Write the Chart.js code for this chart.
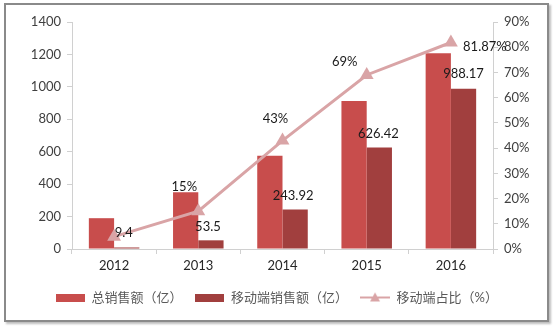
<!DOCTYPE html>
<html>
<head>
<meta charset="utf-8">
<script src="https://cdn.jsdelivr.net/npm/chart.js@4/dist/chart.umd.min.js"></script>
<style>
  html, body { margin: 0; padding: 0; background: #ffffff; }
  #frame {
    position: absolute; left: 4px; top: 3px; width: 541px; height: 315px;
    border: 2px solid #8a8a8a; box-shadow: 2px 2px 2px #bdbdbd; background: #fff;
  }
  #wrap { position: absolute; left: 0; top: 0; width: 553px; height: 327px; }
</style>
</head>
<body>
<div id="frame"></div>
<div id="wrap"><canvas id="c" width="553" height="327"></canvas></div>
<script>
// 年度数据
const years = ['2012', '2013', '2014', '2015', '2016'];
const totalSales = [190, 350, 575, 913, 1207];          // 总销售额（亿）
const mobileSales = [9.4, 53.5, 243.92, 626.42, 988.17]; // 移动端销售额（亿）
const mobileShare = [4.9, 15, 43, 69, 81.87];            // 移动端占比（%）
const shareLabels = ['', '15%', '43%', '69%', '81.87%'];
const mobileLabels = ['9.4', '53.5', '243.92', '626.42', '988.17'];

const FONT = "Lato, 'Noto Sans CJK SC', sans-serif";
const C_TOTAL = '#c84d4c';
const C_MOBILE = '#a13f3e';
const C_LINE = '#d9a4a6';

function boxIcon(color) {
  const cv = document.createElement('canvas');
  cv.width = 29; cv.height = 8;
  const g = cv.getContext('2d');
  g.fillStyle = color; g.fillRect(0, 0, 29, 8);
  return cv;
}
function lineIcon(color) {
  const cv = document.createElement('canvas');
  cv.width = 30; cv.height = 12;
  const g = cv.getContext('2d');
  g.strokeStyle = color; g.lineWidth = 2;
  g.beginPath(); g.moveTo(0, 6); g.lineTo(30, 6); g.stroke();
  g.fillStyle = color;
  g.beginPath(); g.moveTo(15, 1); g.lineTo(20, 10); g.lineTo(10, 10); g.closePath(); g.fill();
  return cv;
}

// 数据标签：按元素位置绘制，带各自的偏移
const labelPlugin = {
  id: 'valueLabels',
  afterDatasetsDraw(chart) {
    const ctx = chart.ctx;
    ctx.save();
    ctx.font = '13px ' + FONT;
    ctx.fillStyle = '#1a1a1a';
    ctx.textAlign = 'center';
    ctx.textBaseline = 'middle';
    const mob = chart.getDatasetMeta(1).data;
    const mobOff = [[-3, -15], [-3, -14], [-2, -14], [-1, -14], [0, -15]];
    mob.forEach((el, i) => {
      ctx.fillText(mobileLabels[i], el.x + mobOff[i][0], el.y + mobOff[i][1]);
    });
    const ln = chart.getDatasetMeta(2).data;
    const lnOff = [[0, 0], [-14, -24], [-7, -22], [-22, -13], [34, 4]];
    ln.forEach((el, i) => {
      if (shareLabels[i]) ctx.fillText(shareLabels[i], el.x + lnOff[i][0], el.y + lnOff[i][1]);
    });
    ctx.restore();
  }
};

new Chart(document.getElementById('c'), {
  data: {
    labels: years,
    datasets: [
      {
        type: 'bar', label: '总销售额（亿）', data: totalSales,
        backgroundColor: C_TOTAL, yAxisID: 'y', order: 2,
        categoryPercentage: 0.6, barPercentage: 1.0
      },
      {
        type: 'bar', label: '移动端销售额（亿）', data: mobileSales,
        backgroundColor: C_MOBILE, yAxisID: 'y', order: 2,
        categoryPercentage: 0.6, barPercentage: 1.0
      },
      {
        type: 'line', label: '移动端占比（%）', data: mobileShare,
        borderColor: C_LINE, backgroundColor: C_LINE, borderWidth: 3,
        pointStyle: 'triangle', pointRadius: 8, pointBorderWidth: 0,
        yAxisID: 'y2', order: 1, tension: 0
      }
    ]
  },
  options: {
    responsive: false,
    animation: false,
    layout: { padding: { left: 0, right: 0, top: 22, bottom: 13 } },
    plugins: {
      tooltip: { enabled: false },
      legend: {
        position: 'bottom',
        labels: {
          font: { family: FONT, size: 13 },
          color: '#595959',
          usePointStyle: true,
          pointStyleWidth: 30,
          padding: 12,
          generateLabels(chart) {
            return chart.data.datasets.map((ds, i) => ({
              text: ds.label,
              pointStyle: i === 2 ? lineIcon(C_LINE) : boxIcon(ds.backgroundColor),
              fillStyle: ds.backgroundColor, strokeStyle: ds.backgroundColor,
              lineWidth: 0, hidden: false, datasetIndex: i, fontColor: '#595959'
            }));
          }
        }
      }
    },
    scales: {
      x: {
        offset: true,
        grid: { display: true, offset: true, drawOnChartArea: false, color: '#d0d0d0', tickLength: 5 },
        border: { color: '#d0d0d0' },
        ticks: { font: { family: FONT, size: 13 }, color: '#262626', padding: 4 },
        afterFit(s) { s.height = 30; }
      },
      y: {
        position: 'left', min: 0, max: 1400,
        ticks: { stepSize: 200, font: { family: FONT, size: 13 }, color: '#404040', padding: 6,
                 callback: v => String(v) },
        grid: { display: true, drawOnChartArea: false, color: '#d0d0d0', tickLength: 5 },
        border: { color: '#d0d0d0' },
        afterFit(s) { s.width = 72; }
      },
      y2: {
        position: 'right', min: 0, max: 90,
        ticks: { stepSize: 10, font: { family: FONT, size: 13 }, color: '#404040', padding: 6,
                 callback: v => v + '%' },
        grid: { display: true, drawOnChartArea: false, color: '#d0d0d0', tickLength: 5 },
        border: { color: '#d0d0d0' },
        afterFit(s) { s.width = 60; }
      }
    }
  },
  plugins: [labelPlugin]
});
</script>
</body>
</html>
